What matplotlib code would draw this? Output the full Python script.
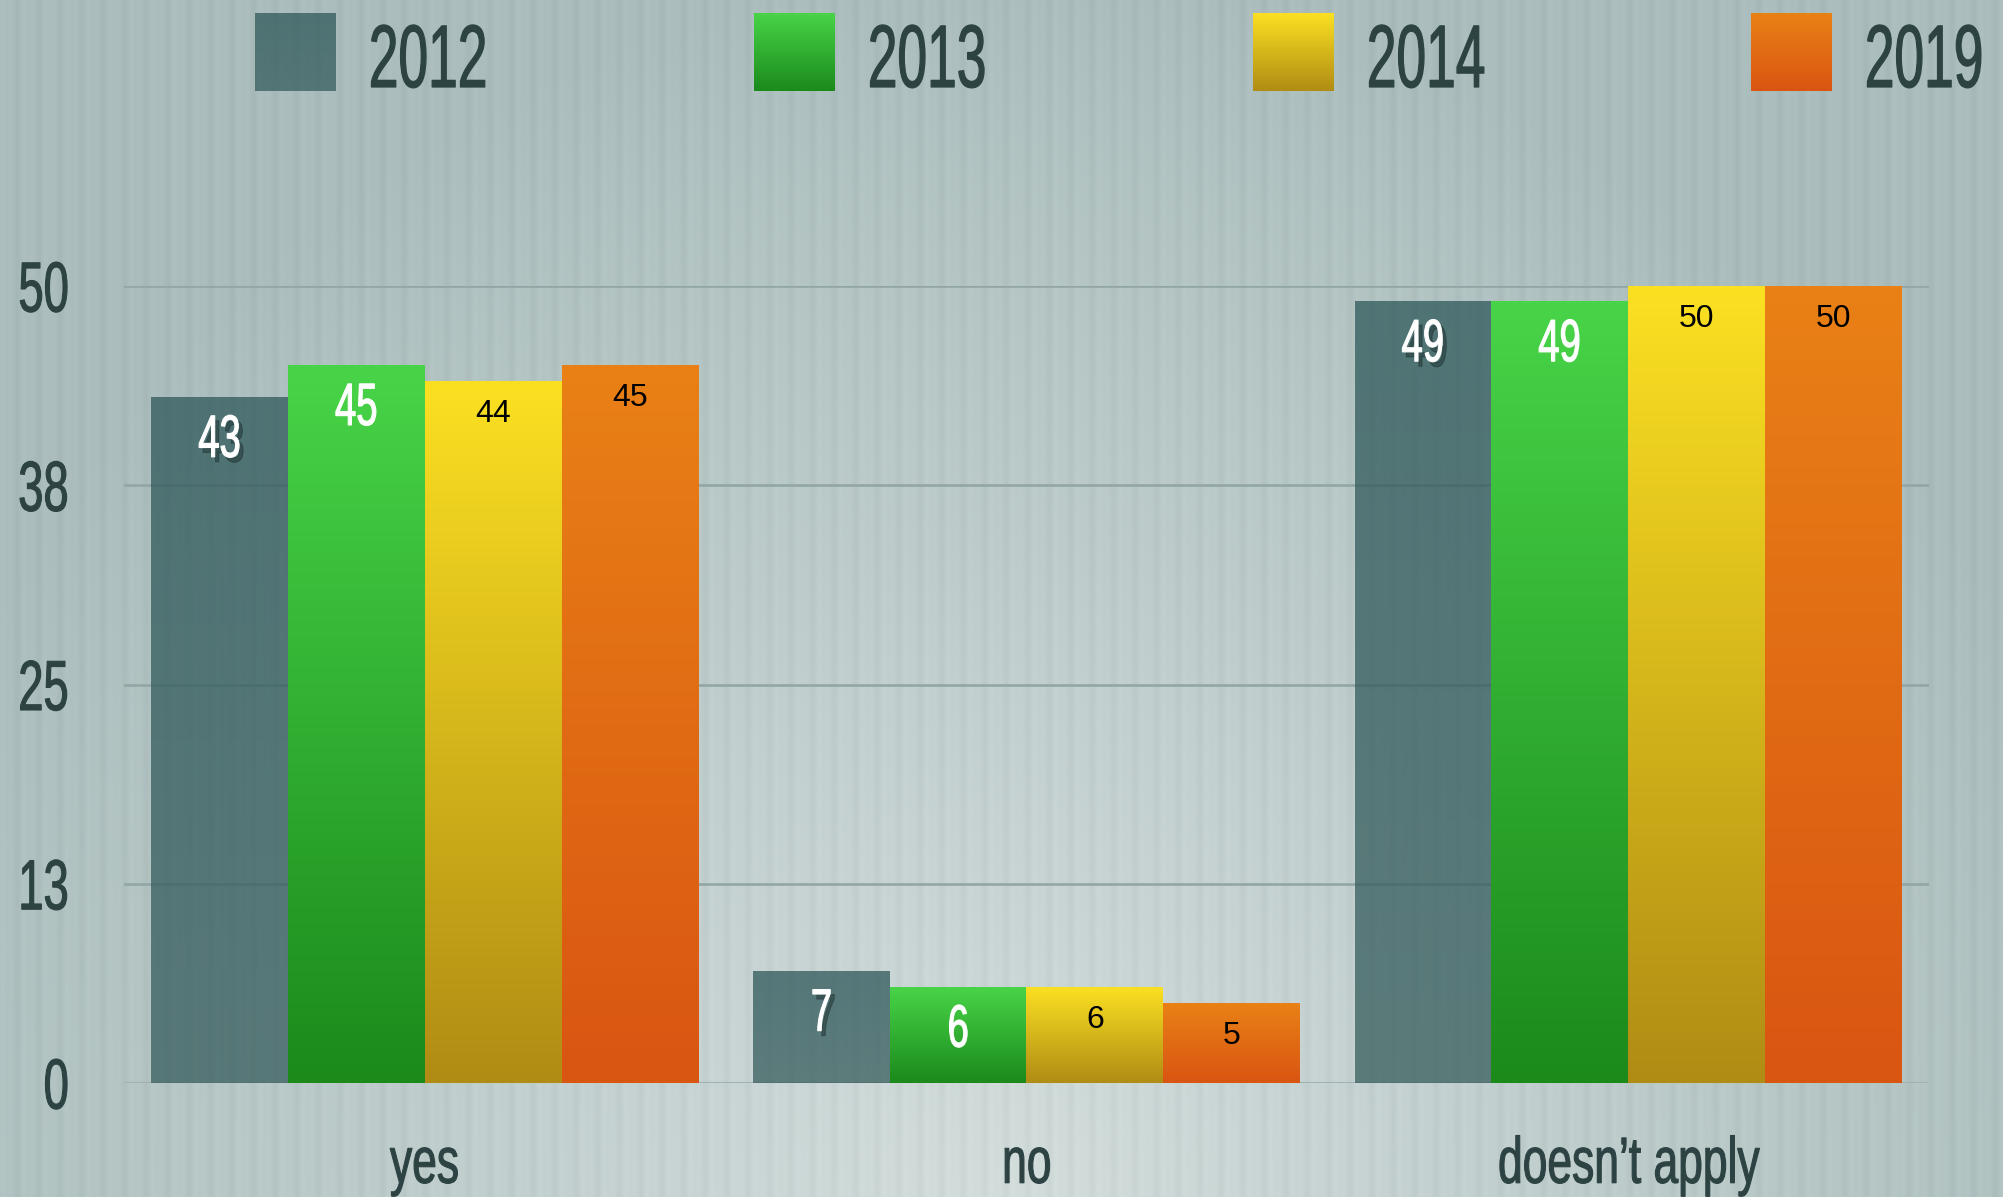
import numpy as np
import matplotlib
matplotlib.use("Agg")
import matplotlib.pyplot as plt
from matplotlib import patheffects as pe
from matplotlib.transforms import Affine2D
from matplotlib.colors import LinearSegmentedColormap, to_rgb

# donnees
categories = ["yes", "no", "doesn\u2019t apply"]
annees = ["2012", "2013", "2014", "2019"]
v2012 = [43, 7, 49]
v2013 = [45, 6, 49]
v2014 = [44, 6, 50]
v2019 = [45, 5, 50]
series = [v2012, v2013, v2014, v2019]
yticks = [0, 12.5, 25, 37.5, 50]
ytick_labels = ["0", "13", "25", "38", "50"]

# degrades (haut, bas) de chaque annee
degrades = [("#2f585a", "#385e5e"), ("#48d448", "#1b8a1b"),
            ("#fbe022", "#b08c14"), ("#e98116", "#d95512")]
alphas = [0.75, 1, 1, 1]
txt_col = "#2d4242"

W, H = 2003, 1197


class Squeeze(pe.AbstractPathEffect):
    """texte condense horizontalement (+ ombre eventuelle)"""
    def __init__(self, sx=0.64, anchor="center", lw=0.0, shadow=False):
        super().__init__()
        self.sx, self.anchor, self.lw, self.shadow = sx, anchor, lw, shadow

    def draw_path(self, renderer, gc, tpath, affine, rgbFace=None):
        bb = tpath.get_extents(affine)
        if self.anchor == "left":
            x0 = bb.x0
        elif self.anchor == "right":
            x0 = bb.x1
        else:
            x0 = (bb.x0 + bb.x1) / 2
        sq = affine + Affine2D().translate(-x0, 0).scale(self.sx, 1).translate(x0, 0)
        if self.shadow:
            gs = renderer.new_gc()
            gs.copy_properties(gc)
            gs.set_alpha(0.45)
            gs.set_linewidth(self.lw)
            gs.set_foreground((0.1, 0.17, 0.17))
            renderer.draw_path(gs, tpath, sq + Affine2D().translate(4, -5), (0.1, 0.17, 0.17))
            gs.restore()
        g = renderer.new_gc()
        g.copy_properties(gc)
        g.set_linewidth(self.lw)
        g.set_foreground(rgbFace)
        renderer.draw_path(g, tpath, sq, rgbFace)
        g.restore()


def fond():
    yy, xx = np.mgrid[0:H, 0:W].astype(float)
    d = np.sqrt(((xx - 1000) / 1150) ** 2 + ((yy - 1230) / 1250) ** 2)
    t = np.clip(d, 0, 1)[..., None]
    clair = np.array(to_rgb("#d2dcdb"))
    sombre = np.array(to_rgb("#aabdbc"))
    img = clair * (1 - t) + sombre * t
    rayures = 0.6 * np.sin(2 * np.pi * xx / 21.5) + 0.4 * np.sin(2 * np.pi * xx / 10.75 + 1.0)
    img = img + 0.018 * rayures[..., None]
    return np.clip(img, 0, 1)


fig = plt.figure(figsize=(W / 100, H / 100), dpi=100)
fig.figimage(fond(), 0, 0, origin="upper", zorder=-10)

ax = fig.add_axes([124 / W, 1 - 1083 / H, (1929 - 124) / W, 797 / H])
ax.set_facecolor("none")
for s in ax.spines.values():
    s.set_visible(False)

grad = np.linspace(0, 1, 256).reshape(-1, 1)
largeur = 0.2272
x = np.arange(len(categories))
for j, vals in enumerate(series):
    cm = LinearSegmentedColormap.from_list("c%d" % j, [degrades[j][1], degrades[j][0]])
    barres = ax.bar(x + (j - 1.5) * largeur, vals, largeur, color="none", zorder=3)
    for b, v in zip(barres, vals):
        ax.imshow(grad, extent=[b.get_x(), b.get_x() + b.get_width(), 0, b.get_height()],
                  origin="lower", cmap=cm, aspect="auto", alpha=alphas[j], zorder=2)
        if j < 2:
            ax.annotate(str(v), (b.get_x() + b.get_width() / 2, v), xytext=(0, -31.5),
                        textcoords="offset points", ha="center", va="center",
                        fontsize=43, family="Liberation Sans", color="white",
                        path_effects=[Squeeze(0.64, "center", 0.8, shadow=(j == 0))], zorder=5)
        else:
            ax.annotate(str(v), (b.get_x() + b.get_width() / 2, v), xytext=(0, -23.5),
                        textcoords="offset points", ha="center", va="center",
                        fontsize=23, family="Liberation Sans", color="black", zorder=5)

ax.set_xlim(-0.5, 2.5)
ax.set_ylim(0, 50)
for yv in yticks[1:]:
    ax.axhline(yv, color="#93a6a6", lw=1.9, zorder=1)
ax.axhline(0, color="#a2b2b2", lw=2.2, zorder=1)

ax.set_yticks(yticks)
ax.set_yticklabels(ytick_labels, fontsize=51, family="Liberation Sans", color=txt_col)
ax.set_xticks(x)
ax.set_xticklabels(categories, fontsize=47, family="Liberation Sans", color=txt_col)
ax.tick_params(axis="y", length=0, pad=39)
ax.tick_params(axis="x", length=0, pad=38)
for lbl in ax.get_yticklabels():
    lbl.set_path_effects([Squeeze(0.64, "right", 0.8)])
for lbl in ax.get_xticklabels():
    lbl.set_path_effects([Squeeze(0.68, "center", 0.8)])

# legende
x_carre = [255, 754, 1253, 1751]
for j, an in enumerate(annees):
    cm = LinearSegmentedColormap.from_list("l%d" % j, [degrades[j][1], degrades[j][0]])
    lax = fig.add_axes([x_carre[j] / W, 1 - 91 / H, 81 / W, 78 / H])
    lax.imshow(grad, origin="lower", cmap=cm, aspect="auto", alpha=alphas[j])
    lax.axis("off")
    fig.text((x_carre[j] + 112) / W, 1 - 87 / H, an, fontsize=64, family="Liberation Sans",
             color=txt_col, ha="left", va="baseline",
             path_effects=[Squeeze(0.6, "left", 0.9)])

plt.savefig("out.png", dpi=100)
